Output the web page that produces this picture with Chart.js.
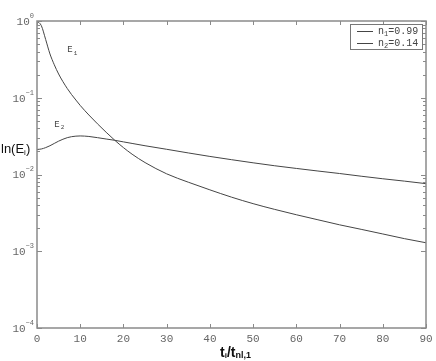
<!DOCTYPE html>
<html>
<head>
<meta charset="utf-8">
<script src="https://cdn.jsdelivr.net/npm/chart.js@4/dist/chart.umd.min.js"></script>
<style>
html,body{margin:0;padding:0;background:#fff;}
#wrap{width:436px;height:361px;position:relative;}
</style>
</head>
<body>
<div id="wrap"><canvas id="c" width="436" height="361"></canvas></div>
<script>
// ---- data ----
const tValues = [0,1,2,3,4,5,6,7,8,9,10,12,14,16,18,20,22,25,30,35,40,45,50,55,60,65,70,75,80,85,90];
const energy1 = [1.0,0.871,0.575,0.372,0.269,0.204,0.162,0.132,0.110,0.0933,0.0794,0.0596,0.0457,0.0355,0.0279,0.0224,0.0184,0.0143,0.0102,0.00794,0.00631,0.00507,0.00417,0.00351,0.00299,0.00257,0.00221,0.00193,0.00168,0.00146,0.00129];
const energy2 = [0.0212,0.0215,0.0224,0.0237,0.0254,0.0272,0.0288,0.0302,0.0311,0.0316,0.0318,0.0313,0.0302,0.0290,0.0279,0.0266,0.0254,0.0237,0.0213,0.0191,0.0172,0.0156,0.0142,0.0130,0.0120,0.0111,0.0103,0.0095,0.0088,0.0082,0.0076];
const seriesLabels = ['n₁=0.99','n₂=0.14'];
const curveNames = [['E','1'],['E','2']];
const curveNameAt = [[7,0.42],[4,0.045]];
const xTickValues = [0,10,20,30,40,50,60,70,80,90];
const yTickExponents = [0,-1,-2,-3,-4];

const LINE = '#454545';
const AXIS = '#8a8a8a';
const TXT = '#666';
const MONO = '"Liberation Mono","DejaVu Sans Mono",monospace';

const decor = {
  id:'decor',
  afterDraw(chart){
    const ctx = chart.ctx, a = chart.chartArea, xs = chart.scales.x, ys = chart.scales.y;
    ctx.save();
    // frame
    ctx.strokeStyle = AXIS; ctx.lineWidth = 1.5;
    ctx.strokeRect(a.left, a.top, a.right-a.left, a.bottom-a.top);
    // x ticks (bottom & top, inward)
    ctx.lineWidth = 1;
    xTickValues.forEach(v=>{
      const px = Math.round(xs.getPixelForValue(v))+0.5;
      ctx.beginPath();
      ctx.moveTo(px,a.bottom); ctx.lineTo(px,a.bottom-4);
      ctx.moveTo(px,a.top); ctx.lineTo(px,a.top+4);
      ctx.stroke();
    });
    // y ticks (major and minor, left & right)
    yTickExponents.forEach(e=>{
      for(let m=1;m<10;m++){
        const v = m*Math.pow(10,e);
        if(v>1.0001) continue;
        if(e===-4 && m>1) continue;
        const py = Math.round(ys.getPixelForValue(v))+0.5;
        const len = m===1?5:3;
        ctx.beginPath();
        ctx.moveTo(a.left,py); ctx.lineTo(a.left+len,py);
        ctx.moveTo(a.right,py); ctx.lineTo(a.right-len,py);
        ctx.stroke();
      }
    });
    // x tick labels
    ctx.fillStyle = TXT; ctx.font = '11px '+MONO;
    ctx.textAlign = 'center'; ctx.textBaseline = 'top';
    xTickValues.forEach(v=>{
      ctx.fillText(String(v), xs.getPixelForValue(v), a.bottom+6);
    });
    // y tick labels 10^e
    yTickExponents.forEach(e=>{
      const py = ys.getPixelForValue(Math.pow(10,e));
      const sup = e===0?'0':'−'+String(-e);
      ctx.font = '7px '+MONO;
      const sw = ctx.measureText(sup).width;
      ctx.textAlign='right'; ctx.textBaseline='middle';
      ctx.fillText(sup, a.left-3, py-5);
      ctx.font = '11px '+MONO;
      ctx.fillText('10', a.left-3-sw, py+1);
    });
    // curve names
    ctx.fillStyle = '#444';
    curveNames.forEach((n,i)=>{
      const px = xs.getPixelForValue(curveNameAt[i][0]);
      const py = ys.getPixelForValue(curveNameAt[i][1]);
      ctx.textAlign='left'; ctx.textBaseline='middle';
      ctx.font = '9px '+MONO;
      ctx.fillText(n[0], px, py);
      const w = ctx.measureText(n[0]).width;
      ctx.font = '6px '+MONO;
      ctx.fillText(n[1], px+w+1, py+3);
    });
    // legend box
    const lx = a.right-76, ly = a.top+3, lw = 72, lh = 25;
    ctx.fillStyle='#fff'; ctx.fillRect(lx,ly,lw,lh);
    ctx.strokeStyle = '#777'; ctx.lineWidth = 1;
    ctx.strokeRect(lx+0.5,ly+0.5,lw,lh);
    chart.data.datasets.forEach((ds,i)=>{
      const yy = ly+7+i*12;
      ctx.strokeStyle = LINE; ctx.lineWidth = 1;
      ctx.beginPath(); ctx.moveTo(lx+7,yy+0.5); ctx.lineTo(lx+23,yy+0.5); ctx.stroke();
      ctx.fillStyle='#444'; ctx.textAlign='left'; ctx.textBaseline='middle';
      const lab = ds.label;
      ctx.font = '10px '+MONO;
      ctx.fillText(lab[0], lx+28, yy);
      let w = ctx.measureText(lab[0]).width;
      ctx.font = '7px '+MONO;
      const sub = String(i+1);
      ctx.fillText(sub, lx+28+w, yy+3);
      const sw = ctx.measureText(sub).width;
      ctx.font = '10px '+MONO;
      ctx.fillText(lab.slice(2), lx+28+w+sw, yy);
    });
    // axis titles
    ctx.fillStyle='#111'; ctx.textBaseline='middle'; ctx.textAlign='left';
    const yt = ys.getPixelForValue(0.021);
    let x0 = 1;
    ctx.font = '13px "Liberation Sans",Arial,sans-serif';
    ctx.fillText('ln(E', x0, yt); x0 += ctx.measureText('ln(E').width;
    ctx.font = '8px "Liberation Sans",Arial,sans-serif';
    ctx.fillText('i', x0, yt+3); x0 += ctx.measureText('i').width;
    ctx.font = '13px "Liberation Sans",Arial,sans-serif';
    ctx.fillText(')', x0, yt);
    // x title
    const parts = [['t',14,0],['i',8,3],['/t',14,0],['nl,1',9,3]];
    let total = 0;
    parts.forEach(p=>{ctx.font='bold '+p[1]+'px "Liberation Sans",Arial,sans-serif'; total+=ctx.measureText(p[0]).width;});
    let xx = (a.left+a.right)/2 - total/2 + 4; const ty = a.bottom+25;
    parts.forEach(p=>{
      ctx.font='bold '+p[1]+'px "Liberation Sans",Arial,sans-serif';
      ctx.fillText(p[0], xx, ty+p[2]); xx += ctx.measureText(p[0]).width;
    });
    ctx.restore();
  }
};

new Chart(document.getElementById('c'),{
  type:'line',
  data:{
    datasets:[
      {label:seriesLabels[0], data:tValues.map((t,i)=>({x:t,y:energy1[i]})), borderColor:LINE, borderWidth:1, pointRadius:0, cubicInterpolationMode:'monotone', fill:false},
      {label:seriesLabels[1], data:tValues.map((t,i)=>({x:t,y:energy2[i]})), borderColor:LINE, borderWidth:1, pointRadius:0, cubicInterpolationMode:'monotone', fill:false}
    ]
  },
  options:{
    responsive:false, animation:false,
    layout:{padding:{left:0,top:21,right:10,bottom:0}},
    plugins:{legend:{display:false}, tooltip:{enabled:false}},
    scales:{
      x:{type:'linear', min:0, max:90, grid:{display:false}, border:{display:false},
         ticks:{display:false}, afterFit(s){s.height=33;}},
      y:{type:'logarithmic', min:1e-4, max:1, grid:{display:false}, border:{display:false},
         ticks:{display:false}, afterFit(s){s.width=37;}}
    }
  },
  plugins:[decor]
});
</script>
</body>
</html>
